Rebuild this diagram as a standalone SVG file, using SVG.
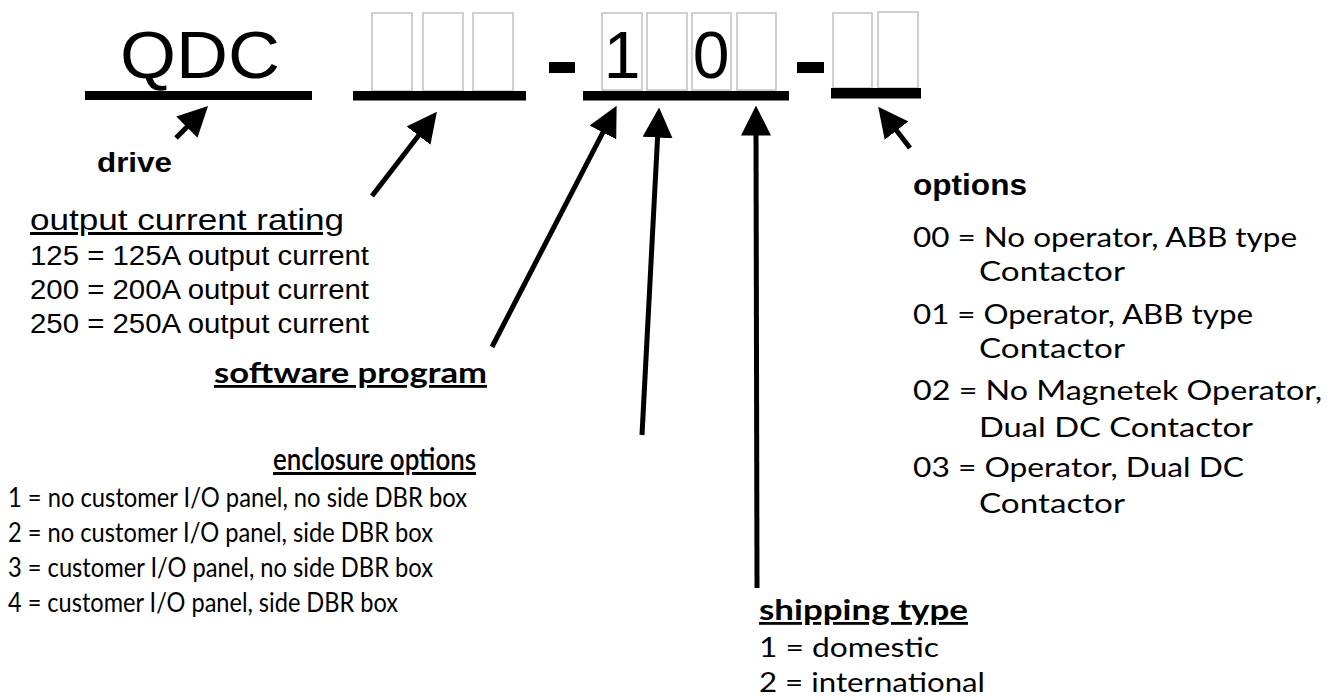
<svg xmlns="http://www.w3.org/2000/svg" width="1335" height="700" viewBox="0 0 1335 700">
<style>
.bg{fill:#ffffff}
.box{fill:none;stroke:#c4c4c4;stroke-width:1.6}
.bar{fill:#000000}
.big{font-family:"Liberation Sans",Arial,sans-serif;font-size:66px;fill:#000}
.arial{font-family:"Liberation Sans",Arial,sans-serif;fill:#000}
.goth{font-family:Lato,"Noto Sans",sans-serif;fill:#000}
.b{font-weight:bold}
.u{text-decoration:underline}
.conn{stroke:#000;stroke-width:5;fill:none;marker-end:url(#ah)}
</style>
<defs>
<marker id="ah" markerUnits="userSpaceOnUse" markerWidth="30" markerHeight="30" refX="8" refY="14" orient="auto" viewBox="0 0 28 28">
<path d="M0,0 L28,14 L0,28 z" fill="#000"/>
</marker>
</defs>
<rect class="bg" x="0" y="0" width="1335" height="700"/>

<g id="code-drive">
<text class="big" x="120" y="78" textLength="160" lengthAdjust="spacingAndGlyphs">QDC</text>
<rect class="bar" x="85" y="91" width="227" height="9"/>
</g>

<g id="code-rating">
<rect class="box" x="372" y="13" width="40" height="78"/>
<rect class="box" x="423" y="13" width="40" height="78"/>
<rect class="box" x="473" y="13" width="40" height="78"/>
<rect class="bar" x="353" y="91" width="173" height="9.5"/>
</g>

<g id="dash-1"><rect class="bar" x="549" y="62" width="26" height="11"/></g>

<g id="code-software">
<rect class="box" x="602" y="13" width="40" height="77"/>
<rect class="box" x="647" y="13" width="40" height="77"/>
<rect class="box" x="692" y="13" width="39" height="77"/>
<rect class="box" x="737" y="13" width="39" height="77"/>
<text class="big" x="622" y="78" text-anchor="middle">1</text>
<text class="big" x="711" y="78" text-anchor="middle">0</text>
<rect class="bar" x="583" y="91" width="206" height="9.5"/>
</g>

<g id="dash-2"><rect class="bar" x="797" y="62" width="27" height="11"/></g>

<g id="code-options">
<rect class="box" x="833" y="13" width="39" height="75"/>
<rect class="box" x="878" y="12" width="40" height="76"/>
<rect class="bar" x="831" y="88" width="90" height="10.5"/>
</g>

<g id="connectors">
<line class="conn" x1="176" y1="138" x2="192.9" y2="121.1"/>
<line class="conn" x1="372" y1="196" x2="423.8" y2="128.8"/>
<line class="conn" x1="492" y1="347" x2="606.8" y2="124.8"/>
<line class="conn" x1="642" y1="435" x2="658" y2="129"/>
<line class="conn" x1="757" y1="588" x2="756" y2="127"/>
<line class="conn" x1="910" y1="148" x2="891.3" y2="123.8"/>
</g>

<g id="label-drive">
<text class="arial b" x="97" y="172" font-size="28" textLength="75" lengthAdjust="spacingAndGlyphs">drive</text>
</g>

<g id="label-rating">
<text class="arial u" x="30" y="230" font-size="30" textLength="314" lengthAdjust="spacingAndGlyphs">output current rating</text>
<text class="arial" x="30" y="265" font-size="27" textLength="339" lengthAdjust="spacingAndGlyphs">125 = 125A output current</text>
<text class="arial" x="30" y="299" font-size="27" textLength="339" lengthAdjust="spacingAndGlyphs">200 = 200A output current</text>
<text class="arial" x="30" y="333" font-size="27" textLength="339" lengthAdjust="spacingAndGlyphs">250 = 250A output current</text>
</g>

<g id="label-software">
<text class="goth b u" x="214" y="383" font-size="28" textLength="273" lengthAdjust="spacingAndGlyphs">software program</text>
</g>

<g id="label-enclosure">
<text class="goth u" x="273" y="470" font-size="30" font-weight="600" textLength="203" lengthAdjust="spacingAndGlyphs">enclosure options</text>
<text class="goth" x="8" y="507" font-size="27" textLength="459" lengthAdjust="spacingAndGlyphs">1 = no customer I/O panel, no side DBR box</text>
<text class="goth" x="8" y="542" font-size="27" textLength="425" lengthAdjust="spacingAndGlyphs">2 = no customer I/O panel, side DBR box</text>
<text class="goth" x="8" y="577" font-size="27" textLength="425" lengthAdjust="spacingAndGlyphs">3 = customer I/O panel, no side DBR box</text>
<text class="goth" x="8" y="612" font-size="27" textLength="390" lengthAdjust="spacingAndGlyphs">4 = customer I/O panel, side DBR box</text>
</g>

<g id="label-shipping">
<text class="goth b u" x="759" y="620" font-size="28" textLength="209" lengthAdjust="spacingAndGlyphs">shipping type</text>
<text class="goth" x="759" y="657" font-size="27" textLength="180" lengthAdjust="spacingAndGlyphs">1 = domestic</text>
<text class="goth" x="759" y="692" font-size="27" textLength="226" lengthAdjust="spacingAndGlyphs">2 = international</text>
</g>

<g id="label-options">
<text class="arial b" x="913" y="195" font-size="30" textLength="114" lengthAdjust="spacingAndGlyphs">options</text>
<text class="goth" x="913" y="247" font-size="27" textLength="384" lengthAdjust="spacingAndGlyphs">00 = No operator, ABB type</text>
<text class="goth" x="979" y="281" font-size="27" textLength="146" lengthAdjust="spacingAndGlyphs">Contactor</text>
<text class="goth" x="913" y="324" font-size="27" textLength="340" lengthAdjust="spacingAndGlyphs">01 = Operator, ABB type</text>
<text class="goth" x="979" y="358" font-size="27" textLength="146" lengthAdjust="spacingAndGlyphs">Contactor</text>
<text class="goth" x="913" y="400" font-size="27" textLength="409" lengthAdjust="spacingAndGlyphs">02 = No Magnetek Operator,</text>
<text class="goth" x="979" y="437" font-size="27" textLength="274" lengthAdjust="spacingAndGlyphs">Dual DC Contactor</text>
<text class="goth" x="913" y="477" font-size="27" textLength="331" lengthAdjust="spacingAndGlyphs">03 = Operator, Dual DC</text>
<text class="goth" x="979" y="513" font-size="27" textLength="146" lengthAdjust="spacingAndGlyphs">Contactor</text>
</g>
</svg>
